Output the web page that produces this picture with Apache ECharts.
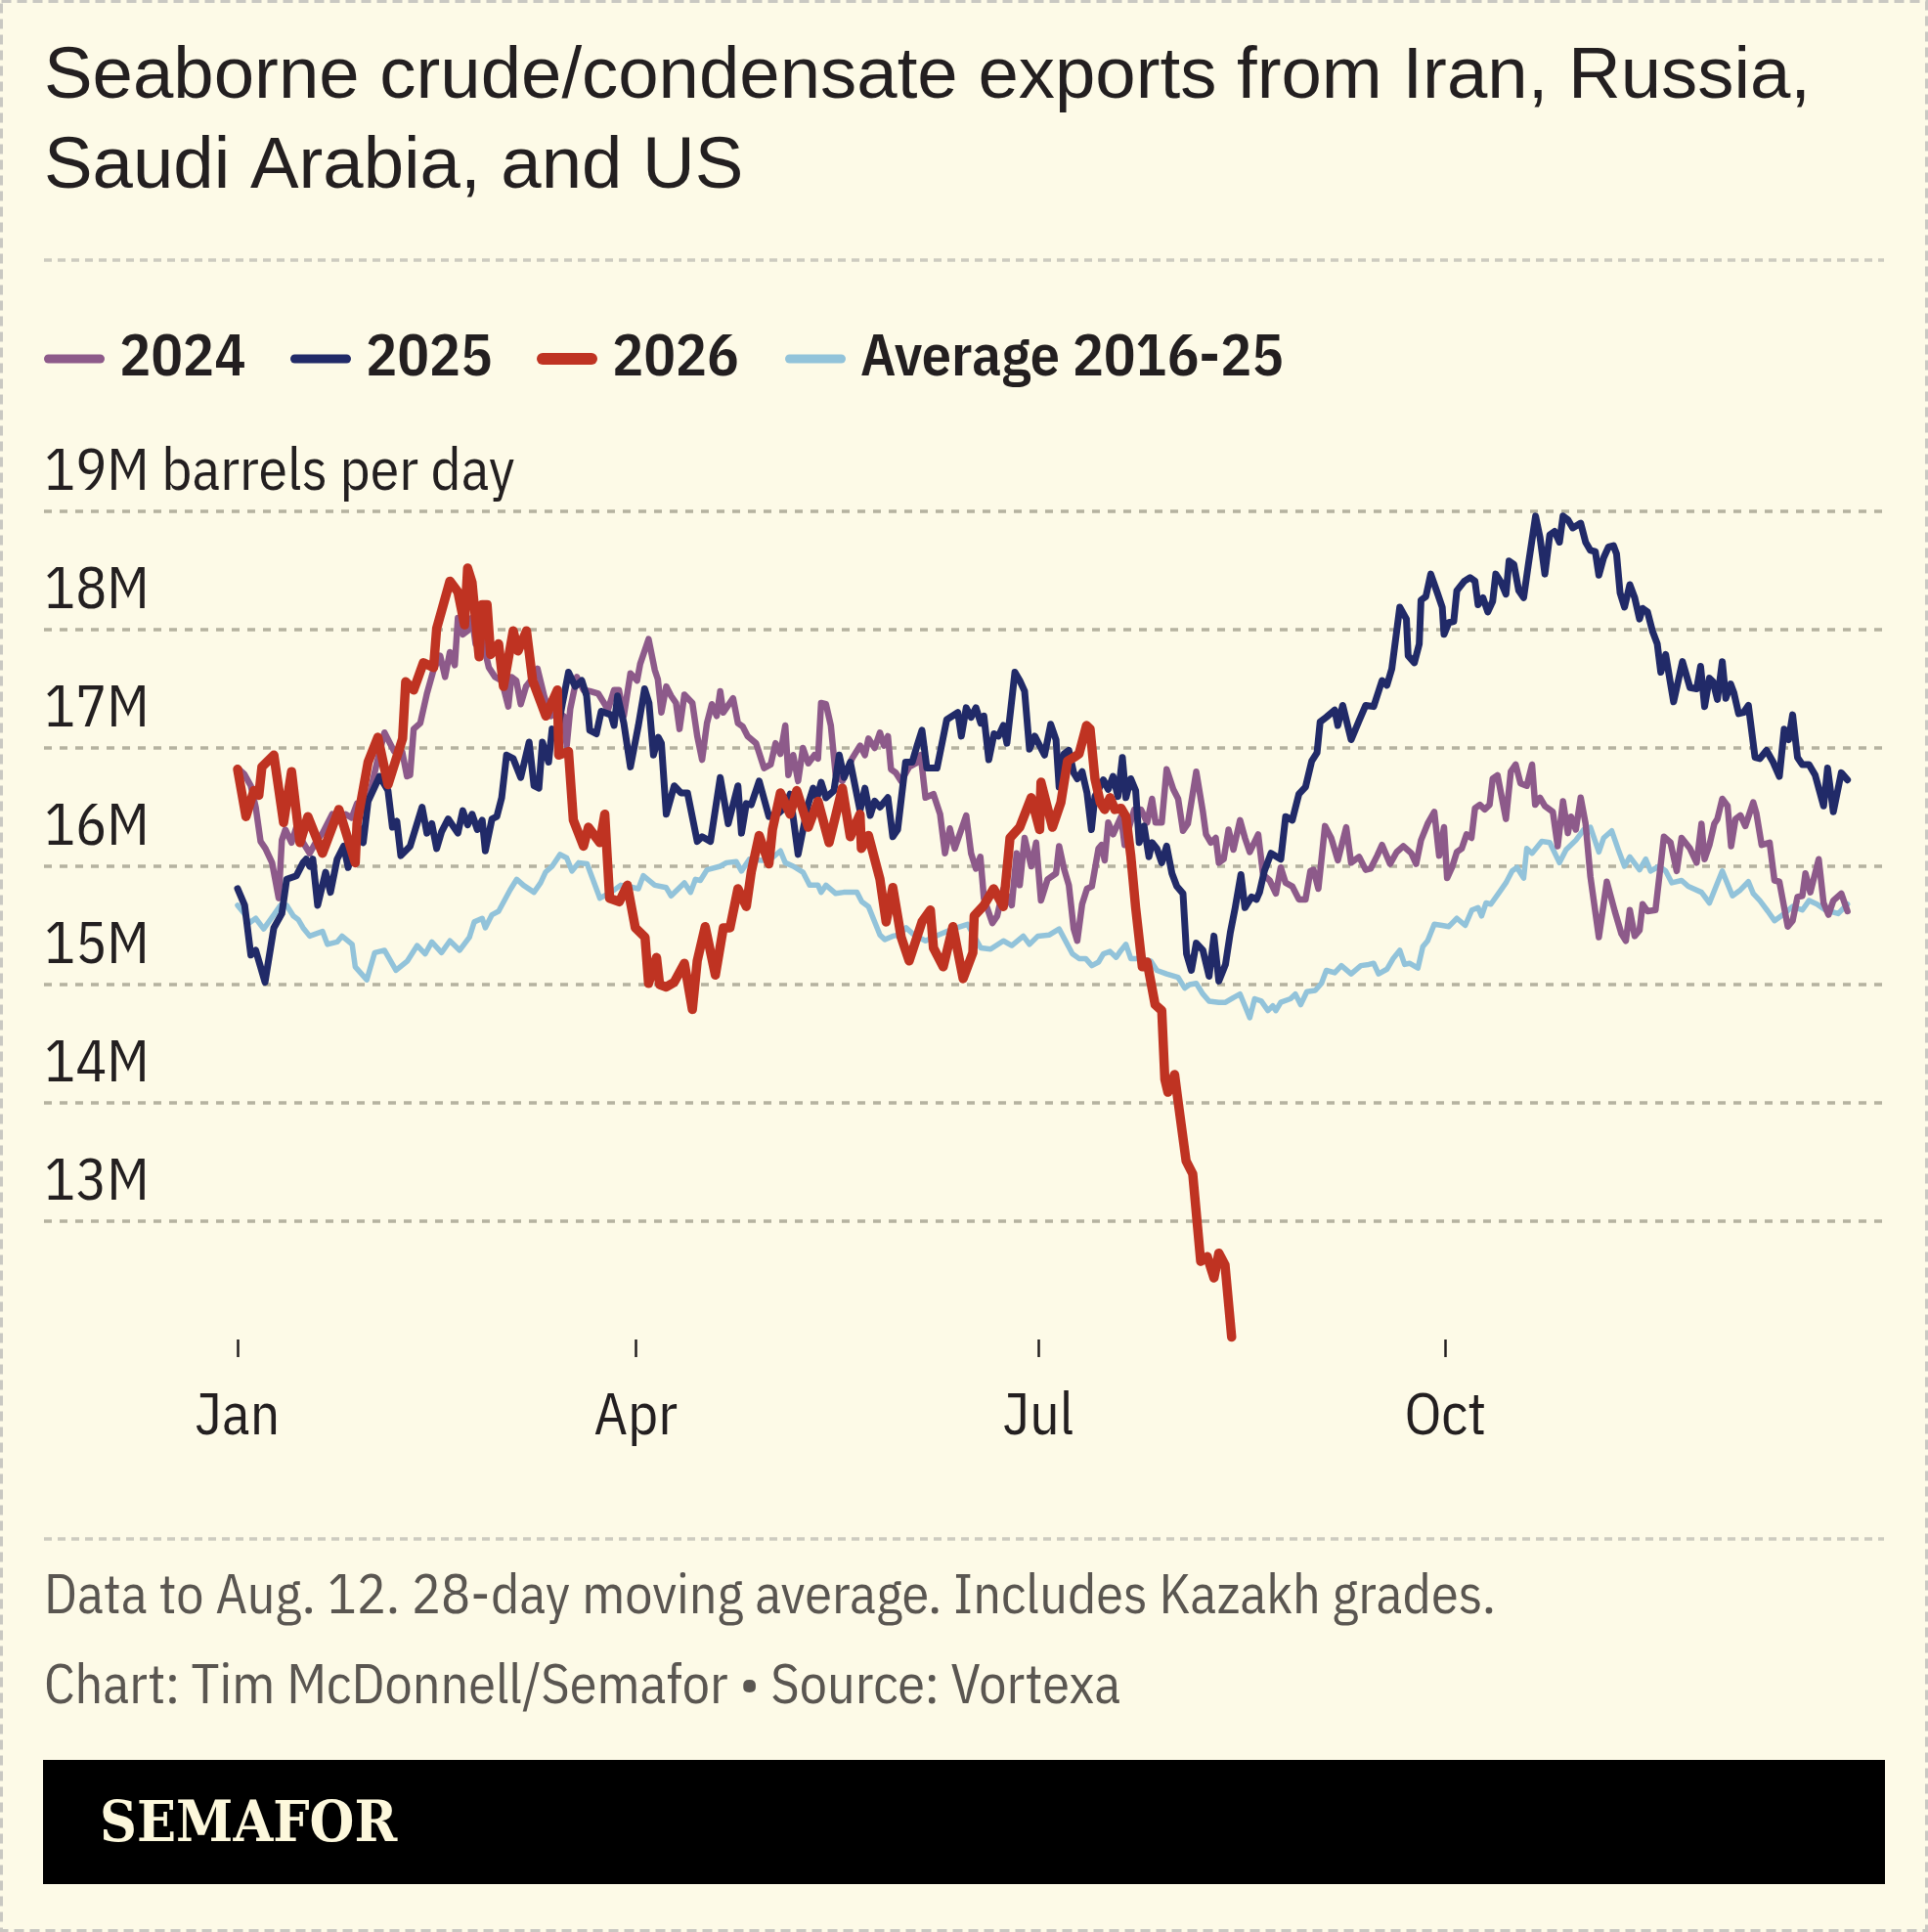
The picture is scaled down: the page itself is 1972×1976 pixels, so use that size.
<!DOCTYPE html>
<html>
<head>
<meta charset="utf-8">
<script src="https://cdn.jsdelivr.net/npm/echarts@6/dist/echarts.min.js"></script>
<style>
html,body{margin:0;padding:0;background:#fdfae7;}
#chart{width:1972px;height:1976px;}
</style>
</head>
<body>
<div id="chart"></div>
<script>
// ---- DATA (day of year, Jan 1 = 0) ----
const monthTicks = [0, 90, 181, 273];
const monthLabels = ['Jan', 'Apr', 'Jul', 'Oct'];
const yTicks = [12, 13, 14, 15, 16, 17, 18, 19];

const days2024 = [0,1.5,3,4.1,5.2,6.3,7.8,9.3,10,10.8,12.2,13.3,14.8,16.3,17.8,19.2,21.4,22.2,24.4,25.8,27,28.3,29.5,31.4,33.2,35.4,37.2,38.3,39,39.8,41.3,42.8,44.3,45.8,46.9,48,49.1,49.8,50.9,52,53,53.8,55.3,56.8,58.2,59.7,61.2,61.9,63,64,65.2,66.7,67.8,69.3,70.8,72.2,73.7,74.4,75.2,76.7,78.2,79.6,81.5,83,83.7,85.1,86.2,87.3,88.8,90.3,91,92.9,94.3,95,95.8,96.9,98,99.1,99.9,101,102.8,103.9,105,106.1,107.2,108.3,109.1,109.8,112,113.1,114.2,115.3,117.2,119,120.5,121.6,122.7,123.8,124.5,125.6,126.7,127.8,129,130.4,131.2,131.9,133,134.1,135.2,136.7,138.9,140.7,141.8,142.6,144,145.2,146.1,147,147.7,148.8,150,151.8,153.3,154.4,155.5,157.3,158.8,159.9,161,162.1,164.7,165.8,166.9,167.9,168.7,170.6,171.7,173.1,175,176.1,176.8,177.9,179.4,180.5,181.6,183.1,185,185.7,186.8,187.9,189,189.8,190.9,192,193.1,194.6,195.3,196,196.8,197.9,199,199.7,200.5,201.6,202.7,204.2,205.6,206.7,207.5,208.9,210,211.5,212.6,213.7,214.8,216.7,218.2,218.9,220,221.1,221.8,222.9,224,225.1,226.6,227.7,228.8,230.7,231.8,233.3,234.7,235.8,236.9,238.4,239.9,241.4,242.5,243.2,244.3,245.8,247.2,248.7,250.6,251.7,253.5,255,256.1,257.6,258.7,260.5,262,263.5,265.3,266.4,267.5,269,270.5,271.6,272.7,273.4,274.5,275.6,276.7,277.8,278.9,279.7,280.8,281.9,283,283.7,284.8,286.7,287.8,288.9,290,291.4,292.6,293.3,294.4,295.5,297.3,298.4,299.6,300.7,301.4,302.5,303.6,304.7,305.8,307.7,309.5,311.3,312.8,313.8,314.7,315.8,316.9,317.6,318.7,320.5,322.4,323.9,325.3,326.4,328.3,329.8,330.9,331.6,332.7,333.8,334.5,335.6,336.8,337.6,338.6,339.7,340.8,342.6,343.3,344.5,346.3,347.4,348.5,350.4,351.5,352.6,353.7,354.4,355.5,357.4,358.5,359.6,360.7,362.5,363.9];
const vals2024 = [16.83,16.78,16.68,16.5,16.21,16.15,16.03,15.73,16.22,16.31,16.2,16.33,16.2,16.11,16.21,16.28,16.44,16.38,16.44,16.41,16.53,16.5,16.55,16.86,17.13,16.97,16.97,16.76,16.77,17.16,17.21,17.46,17.66,17.78,17.6,17.81,17.7,18.1,17.96,17.99,18.1,17.88,17.92,17.68,17.6,17.57,17.35,17.6,17.57,17.37,17.52,17.59,17.67,17.44,17.27,17.3,17.27,17.02,17.33,17.6,17.49,17.48,17.46,17.37,17.32,17.49,17.49,17.27,17.63,17.57,17.71,17.92,17.66,17.58,17.3,17.52,17.44,17.38,17.16,17.45,17.38,17.1,16.9,17.21,17.37,17.27,17.48,17.3,17.42,17.21,17.18,17.1,17.04,16.83,16.86,17.04,16.95,17.19,16.77,16.94,16.72,17.0,16.87,16.94,16.91,17.38,17.37,17.19,16.77,16.72,16.91,17.02,16.94,17.08,17.0,17.13,17.02,17.1,16.82,16.79,16.72,16.84,16.87,16.94,16.58,16.61,16.44,16.11,16.32,16.15,16.43,16.11,15.98,16.08,15.73,15.52,15.58,15.81,15.67,16.11,15.84,16.24,16.0,16.2,15.71,15.89,15.94,16.17,15.98,15.84,15.47,15.37,15.68,15.81,15.83,16.15,16.18,16.05,16.37,16.27,16.36,16.42,16.18,16.34,16.48,16.48,16.37,16.57,16.37,16.37,16.82,16.65,16.57,16.3,16.36,16.8,16.46,16.27,16.2,16.24,16.03,16.06,16.31,16.14,16.39,16.24,16.12,16.27,15.93,15.88,15.77,15.99,15.86,15.83,15.72,15.72,15.96,15.97,15.81,16.34,16.24,16.05,16.33,16.03,16.08,15.97,15.98,16.09,16.18,16.02,16.12,16.17,16.11,16.02,16.22,16.36,16.46,16.09,16.33,15.9,15.99,16.12,16.15,16.27,16.24,16.49,16.52,16.48,16.52,16.74,16.77,16.4,16.8,16.86,16.7,16.68,16.86,16.52,16.58,16.51,16.46,16.17,16.55,16.28,16.42,16.31,16.58,16.36,15.91,15.4,15.87,15.62,15.43,15.37,15.63,15.41,15.46,15.68,15.62,15.63,16.25,16.2,15.96,16.24,16.15,16.03,16.36,16.06,16.18,16.36,16.4,16.57,16.51,16.17,16.4,16.43,16.34,16.54,16.45,16.18,16.2,15.88,15.87,15.49,15.54,15.74,15.75,15.94,15.78,16.06,15.69,15.59,15.71,15.77,15.62];

const days2025 = [0,1.6,3,4.1,6.2,8.2,10,11.1,13.3,14.8,15.5,16.3,17,18.1,19.9,21,22.5,24,25,27.3,28.4,29.5,32.1,34,35,36,36.9,39,41.7,42.8,43.9,45,46.1,47.6,49.8,50.9,52,53,54.2,55.3,56,57.5,58.6,59.7,60.8,62.3,64,65.9,67,68.1,68.9,70.3,71.1,72.2,73.4,74.8,76.3,77.8,78.9,79.6,81.1,82.2,84.4,85.1,85.9,87.3,88.8,90.6,92,93,94,95.1,95.8,96.9,98.7,100.2,101.7,103.9,105,106.9,109.1,110.9,113.1,113.9,115,116.1,117.9,120.1,122.3,123.8,124.9,126.7,129,130.1,131,131.9,133,134.8,136,137.1,138.5,140.7,141.8,143,144,145.2,147,148.1,149.2,151,152.5,153.6,154.7,155.8,158.1,160.3,162.8,163.6,164.7,165.8,166.9,168,168.7,169.8,171,172,173.1,173.9,175.7,176.8,177.9,179,180.2,182.4,183.8,185,185.7,186.8,187.9,189,189.8,190.9,192,193,193.8,195.7,196.8,197.9,199,200,200.8,201.9,203,203.8,204.9,206,206.7,207.8,208.9,210,211.2,212.3,213.7,214.5,215.6,216.7,218.2,219.6,220.7,221.8,223.3,224.4,225.5,226.8,227.7,229.2,230.3,231,232.1,233.6,235.8,236.9,238.4,239.9,241.4,242.8,244,244.7,246.1,248,248.7,249.8,251.7,253.5,255,256.8,258.7,259.8,260.9,262.7,264.2,264.6,266,267.1,267.5,268.6,269.7,271.2,272.3,272.7,273.8,274.9,275.6,277.3,278.6,279.7,280.4,281.5,282.6,283.7,284.4,285.6,286.7,287.4,288.5,289.6,290.7,291.8,293.4,294.4,295.5,296.6,297.7,298.8,299.6,300.7,301.8,303.6,304.7,305.8,306.9,307.7,308.8,309.9,311,311.7,312.5,313.5,314.7,315.8,316.9,317.6,318.7,319.8,320.9,321.7,322.8,324.6,326.6,328.3,329.8,330.7,331.6,332.7,333.5,334.5,335.6,336.4,337.5,338.2,339.3,340.4,341.5,343,344.1,345.6,347.1,348.5,349.6,350.6,351.5,352.6,353.7,355.2,356.6,358.5,359.4,360.7,362.5,363.9];
const vals2025 = [15.81,15.67,15.25,15.29,15.02,15.48,15.6,15.89,15.92,16.03,16.06,16.0,16.06,15.67,15.95,15.78,16.06,16.17,15.99,16.33,16.2,16.55,16.76,16.64,16.33,16.38,16.09,16.17,16.5,16.28,16.36,16.15,16.29,16.4,16.28,16.47,16.35,16.44,16.31,16.39,16.13,16.4,16.42,16.58,16.94,16.91,16.75,17.05,16.68,16.66,17.05,16.88,17.16,17.12,17.37,17.64,17.52,17.57,17.44,17.15,17.12,17.31,17.28,17.19,17.44,17.21,16.84,17.19,17.5,17.38,16.94,17.09,17.04,16.44,16.68,16.62,16.62,16.21,16.25,16.21,16.75,16.36,16.68,16.28,16.53,16.52,16.72,16.42,16.45,16.5,16.61,16.1,16.53,16.66,16.58,16.71,16.58,16.64,16.94,16.75,16.88,16.47,16.66,16.43,16.55,16.5,16.58,16.25,16.31,16.88,16.88,17.02,17.15,16.83,16.83,17.24,17.3,17.1,17.34,17.26,17.34,17.21,17.27,16.9,17.12,17.1,17.19,17.04,17.64,17.57,17.48,16.99,17.1,16.94,17.2,17.07,16.67,16.95,16.98,16.79,16.74,16.8,16.62,16.31,16.59,16.73,16.65,16.76,16.59,16.92,16.58,16.74,16.64,16.2,16.34,16.08,16.2,16.15,16.03,16.17,15.94,15.83,15.77,15.26,15.12,15.35,15.29,15.07,15.41,15.03,15.17,15.44,15.65,15.93,15.65,15.74,15.72,15.78,15.96,16.11,16.06,16.42,16.39,16.61,16.67,16.89,16.96,17.22,17.26,17.32,17.19,17.36,17.07,17.23,17.36,17.35,17.57,17.53,17.67,18.19,18.09,17.78,17.72,17.88,18.25,18.28,18.47,18.31,18.19,17.96,18.06,18.07,18.33,18.41,18.44,18.41,18.21,18.27,18.15,18.24,18.47,18.4,18.3,18.58,18.55,18.33,18.27,18.56,18.96,18.78,18.47,18.8,18.83,18.74,18.96,18.93,18.86,18.9,18.74,18.67,18.66,18.46,18.61,18.7,18.71,18.64,18.31,18.19,18.38,18.27,18.09,18.18,18.15,17.99,17.88,17.64,17.79,17.39,17.73,17.51,17.5,17.69,17.35,17.59,17.56,17.41,17.73,17.42,17.54,17.47,17.29,17.3,17.36,16.92,16.91,16.98,16.88,16.76,17.16,17.07,17.28,16.92,16.86,16.86,16.77,16.51,16.83,16.46,16.79,16.73];

const days2026 = [0,1.9,3.7,4.8,5.5,8.2,10.4,12.2,14.1,15.9,19.2,22.9,26.6,27,29.5,31.7,34,37.3,38,39.8,42,44.3,45,48,49.8,51.3,52,53,54.6,55.3,56.4,57.2,59,60.1,62.3,63.4,65.3,66.7,69.7,72.3,72.6,74.8,75.9,78.2,79.3,81.9,83,84.1,86.3,88.1,89.9,92.1,92.9,94.7,95.4,96.9,98.7,101,102.8,103.9,105.7,108,109.8,111.3,113.1,115,116.1,117.9,120.1,120.9,122.7,124.9,126.4,129,131.2,133.7,136.7,138.5,140.7,141,142.6,145.2,146.6,148.1,150,151.8,154.7,156.6,157.3,159.5,161.7,164,166.2,166.5,168.7,170.9,173.1,174.6,176.8,179.4,181.3,181.6,184.2,186.1,187.6,189,190.2,191.9,192.7,193.8,195,196,197.2,198.3,199.7,200.8,201.9,203,204.5,205.6,207.4,208.9,209.6,210.3,211.8,212.6,214.4,215.9,217.7,219.2,220.7,221.8,223.2,224.7];
const vals2026 = [16.82,16.42,16.64,16.6,16.84,16.94,16.37,16.8,16.2,16.42,16.11,16.48,16.03,16.36,16.88,17.09,16.69,17.08,17.56,17.49,17.72,17.68,18.01,18.41,18.32,18.04,18.52,18.4,17.77,18.21,18.21,17.79,17.88,17.52,17.99,17.82,17.99,17.57,17.27,17.49,16.94,16.97,16.39,16.17,16.33,16.2,16.44,15.73,15.7,15.84,15.48,15.4,15.01,15.23,15.0,14.98,15.02,15.18,14.79,15.2,15.49,15.08,15.48,15.48,15.81,15.66,15.95,16.26,16.02,16.31,16.62,16.44,16.64,16.33,16.55,16.2,16.66,16.25,16.44,16.15,16.26,15.89,15.53,15.82,15.4,15.2,15.53,15.63,15.31,15.15,15.49,15.05,15.27,15.58,15.67,15.81,15.66,16.24,16.33,16.58,16.31,16.71,16.33,16.54,16.89,16.92,16.95,17.19,17.16,16.74,16.54,16.48,16.58,16.48,16.49,16.42,16.09,15.65,15.15,15.19,14.83,14.78,14.2,14.09,14.24,14.01,13.51,13.4,12.66,12.7,12.52,12.73,12.63,12.02];

const daysAvg = [0,1.5,2.6,4.1,5.9,8.2,9.7,11.1,12.6,13.7,14.8,16.3,19.2,20.3,22.5,23.6,25.9,26.6,29.2,31,33.2,35.8,38.4,40.6,42.4,43.9,46.1,48,50.2,52.4,53.5,55.3,56,57.5,59,61.6,63.1,64.6,67,68.5,69.6,71.1,72.9,74.4,75.6,77.1,79,81.9,84.4,86.6,88.4,90.6,91.7,94.3,96.9,98,101,102.4,103.5,104.6,106.1,109.1,110.5,112.7,113.9,115.7,118.6,120.5,122.7,123.8,125.6,127.8,129.3,131.2,131.9,133,135.2,137,140,141.1,142.6,145.2,146.3,148.1,149.6,151.1,152.9,155.5,158.4,161.7,165,168,170.2,173.1,175,177.6,179,180.9,183.5,185.7,188.7,190.2,191.7,193.1,194.6,195.7,197.2,198.6,199.7,200.8,201.9,204.2,206.4,207.8,210,212.6,214.1,215.2,216.7,218.2,219.6,221.8,223.3,225.1,226.6,227.7,228.8,229.9,231.4,232.9,234,234.7,235.8,238,239.1,240.3,241.7,243.6,245,246.1,248,249.5,251.7,253.9,255.7,256.8,257.9,259.8,261.2,262.7,263.8,264.9,266.8,267.9,269,270.5,272.3,273.8,275.6,277.5,279,280.4,281.2,282.2,283.3,285.2,286.7,288.1,289.2,290.7,291.4,292.6,294.8,296.6,298.8,300.3,302.5,304.3,305.8,307.7,308.8,310.6,312.1,313.5,314.7,316.9,318.3,319.4,321.3,322.8,324.2,326.4,327.9,330.9,332.7,334.2,335.6,337.9,339.7,341.5,342.6,344.1,345.9,347.4,349.3,351.5,353.7,355.2,357,358.9,361.8,363.9];
const valsAvg = [15.67,15.6,15.52,15.56,15.47,15.59,15.67,15.67,15.58,15.55,15.48,15.41,15.45,15.34,15.36,15.41,15.34,15.15,15.04,15.27,15.29,15.12,15.2,15.33,15.26,15.36,15.27,15.37,15.29,15.4,15.53,15.56,15.48,15.59,15.62,15.8,15.89,15.84,15.78,15.86,15.95,16.0,16.1,16.07,15.96,16.03,16.02,15.73,15.78,15.84,15.83,15.81,15.92,15.84,15.82,15.75,15.86,15.78,15.89,15.88,15.97,16.0,16.03,16.04,15.96,16.06,16.05,16.06,16.13,16.03,16.0,15.95,15.84,15.84,15.78,15.84,15.77,15.78,15.78,15.7,15.66,15.42,15.38,15.41,15.42,15.48,15.42,15.37,15.42,15.47,15.51,15.31,15.3,15.37,15.33,15.41,15.34,15.41,15.42,15.47,15.26,15.22,15.22,15.16,15.19,15.26,15.28,15.23,15.29,15.34,15.22,15.22,15.2,15.12,15.09,15.06,14.97,15.0,15.01,14.92,14.86,14.85,14.85,14.89,14.92,14.82,14.72,14.88,14.86,14.78,14.82,14.78,14.85,14.88,14.92,14.83,14.94,14.95,15.01,15.12,15.1,15.16,15.09,15.16,15.17,15.18,15.09,15.13,15.22,15.29,15.17,15.18,15.14,15.32,15.37,15.51,15.5,15.49,15.56,15.5,15.63,15.65,15.58,15.69,15.68,15.78,15.86,15.96,15.99,15.9,16.15,16.11,16.21,16.2,16.03,16.14,16.22,16.31,16.33,16.12,16.24,16.3,16.14,16.0,16.08,15.97,16.06,15.96,16.0,15.96,15.86,15.88,15.83,15.78,15.69,15.83,15.96,15.75,15.8,15.87,15.77,15.71,15.62,15.54,15.59,15.66,15.63,15.71,15.68,15.63,15.6,15.68];

// ---- font selection ----
function available(f) {
  const c = document.createElement('canvas').getContext('2d');
  const s = 'abcdefghijklmnopqrstuvwxyzABCDEFGHIJKLM0123456789';
  for (const base of ['monospace', 'serif']) {
    c.font = '40px ' + base; const w0 = c.measureText(s).width;
    c.font = '40px "' + f + '", ' + base; const w1 = c.measureText(s).width;
    if (Math.abs(w0 - w1) > 0.5) return true;
  }
  return false;
}
function pick(list, fb) { for (const f of list) if (available(f)) return f; return fb; }
const COND = pick(['IBM Plex Sans Condensed', 'Liberation Sans Narrow', 'DejaVu Sans Condensed', 'Roboto Condensed'], 'Roboto');
const SANS = pick(['Liberation Sans', 'Inter', 'Roboto'], 'sans-serif');
const SERIF = pick(['DejaVu Serif Condensed', 'Liberation Serif', 'DejaVu Serif'], 'serif');
function fit(text, family, weight, targetW, maxSize) {
  const c = document.createElement('canvas').getContext('2d');
  c.font = weight + ' 100px "' + family + '"';
  const w = c.measureText(text).width;
  return Math.min(maxSize, Math.round(targetW / w * 1000) / 10);
}
const axisSize = fit('19M barrels per day', COND, 'normal', 482, 60);
const legendSize = fit('Average 2016-25', COND, '600', 449, 60);
const noteSize = fit('Data to Aug. 12. 28-day moving average. Includes Kazakh grades.', COND, 'normal', 1484, 60);
const titleSize = fit('Seaborne crude/condensate exports from Iran, Russia,', SANS, 'normal', 1808, 76);
const logoSize = fit('SEMAFOR', SERIF, 'bold', 304, 72);

const INK = '#231f20';
const colors = { c2024: '#8d5a8a', c2025: '#212a68', c2026: '#bf3322', cAvg: '#92c3da' };
const zip = (d, v) => d.map((x, i) => [x, v[i]]);
const pill = (w, h) => 'path://M' + h/2 + ',0H' + (w - h/2) + 'A' + h/2 + ',' + h/2 + ' 0 0 1 ' + (w - h/2) + ',' + h + 'H' + h/2 + 'A' + h/2 + ',' + h/2 + ' 0 0 1 ' + h/2 + ',0Z';

function legendItem(name, left, h) {
  return {
    data: [name], left: left, top: 337, orient: 'horizontal',
    itemWidth: 62, itemHeight: h, icon: pill(62, h), selectedMode: false,
    padding: 0, itemGap: 0,
    textStyle: { fontFamily: COND, fontWeight: 600, fontSize: legendSize, color: INK, padding: [6, 0, 0, 10] }
  };
}

// plot geometry: Jan 1 sits at x=243, 4.525 px per day; gridlines run from x=45 to x=1925
const PX_PER_DAY = 4.525;
const X_MIN = -(243 - 45) / PX_PER_DAY;
const X_MAX = (1925 - 243) / PX_PER_DAY;

const chart = echarts.init(document.getElementById('chart'), null, { renderer: 'canvas' });
const option = {
  backgroundColor: '#fdfae7',
  animation: false,
  title: {
    text: 'Seaborne crude/condensate exports from Iran, Russia,\nSaudi Arabia, and US',
    left: 45, top: 33, padding: 0,
    textStyle: { fontFamily: SANS, fontWeight: 'normal', fontSize: titleSize, lineHeight: 92, color: INK }
  },
  legend: [
    legendItem('2024', 45, 9),
    legendItem('2025', 297, 9),
    legendItem('2026', 549, 12),
    legendItem('Average 2016-25', 803, 9)
  ],
  grid: { left: 45, right: 47, top: 523, bottom: 606, containLabel: false },
  xAxis: {
    type: 'value', min: X_MIN, max: X_MAX,
    axisLine: { show: false },
    splitLine: { show: false },
    axisTick: { show: true, customValues: monthTicks, length: 18, lineStyle: { color: INK, width: 2.5 } },
    axisLabel: {
      customValues: monthTicks, margin: 50,
      formatter: v => monthLabels[monthTicks.indexOf(v)] || '',
      fontFamily: COND, fontSize: axisSize, color: INK
    }
  },
  yAxis: {
    type: 'value', min: yTicks[0], max: yTicks[yTicks.length - 1], interval: 1,
    axisLine: { show: false }, axisTick: { show: false },
    splitLine: { show: true, lineStyle: { color: ['rgba(0,0,0,0)', '#b5b2a0', '#b5b2a0', '#b5b2a0', '#b5b2a0', '#b5b2a0', '#b5b2a0', '#b5b2a0'], width: 3.5, type: [8, 8] } },
    axisLabel: {
      inside: true, align: 'left', margin: 0, verticalAlign: 'bottom', padding: [0, 0, 9, 0],
      formatter: v => v === 19 ? '19M barrels per day' : (v === 12 ? '' : v + 'M'),
      fontFamily: COND, fontSize: axisSize, color: INK
    }
  },
  series: [
    { name: '2024', type: 'line', z: 2, data: zip(days2024, vals2024), showSymbol: false, symbol: 'none', color: colors.c2024,
      lineStyle: { width: 6.5, color: colors.c2024, cap: 'round', join: 'round' } },
    { name: '2025', type: 'line', z: 3, data: zip(days2025, vals2025), showSymbol: false, symbol: 'none', color: colors.c2025,
      lineStyle: { width: 7, color: colors.c2025, cap: 'round', join: 'round' } },
    { name: '2026', type: 'line', z: 4, data: zip(days2026, vals2026), showSymbol: false, symbol: 'none', color: colors.c2026,
      lineStyle: { width: 9.5, color: colors.c2026, cap: 'round', join: 'round' } },
    { name: 'Average 2016-25', type: 'line', z: 1, data: zip(daysAvg, valsAvg), showSymbol: false, symbol: 'none', color: colors.cAvg,
      lineStyle: { width: 5.5, color: colors.cAvg, cap: 'round', join: 'round' } }
  ],
  graphic: [
    { type: 'rect', silent: true, shape: { x: 1.5, y: 1.5, width: 1969, height: 1973 },
      style: { fill: 'none', stroke: '#c9c8c2', lineWidth: 3, lineDash: [10, 6] } },
    { type: 'line', silent: true, shape: { x1: 45, y1: 266, x2: 1927, y2: 266 },
      style: { stroke: '#cdcbc0', lineWidth: 3.5, lineDash: [8, 6] } },
    { type: 'line', silent: true, shape: { x1: 45, y1: 1574, x2: 1927, y2: 1574 },
      style: { stroke: '#cdcbc0', lineWidth: 3.5, lineDash: [8, 6] } },
    { type: 'text', silent: true, style: { text: 'Data to Aug. 12. 28-day moving average. Includes Kazakh grades.',
      x: 45, y: 1651 + noteSize * 0.2, verticalAlign: 'bottom', font: noteSize + 'px "' + COND + '"', fill: '#5a5651' } },
    { type: 'text', silent: true, style: { text: 'Chart: Tim McDonnell/Semafor \u2022 Source: Vortexa',
      x: 45, y: 1743 + noteSize * 0.2, verticalAlign: 'bottom', font: noteSize + 'px "' + COND + '"', fill: '#5a5651' } },
    { type: 'rect', silent: true, shape: { x: 44, y: 1800, width: 1884, height: 127 }, style: { fill: '#000000' } },
    { type: 'text', silent: true, style: { text: 'SEMAFOR', x: 102, y: 1886 + logoSize * 0.2, verticalAlign: 'bottom',
      font: 'bold ' + logoSize + 'px "' + SERIF + '"', fill: '#fdf8dc' } }
  ]
};
chart.setOption(option);
</script>
</body>
</html>
